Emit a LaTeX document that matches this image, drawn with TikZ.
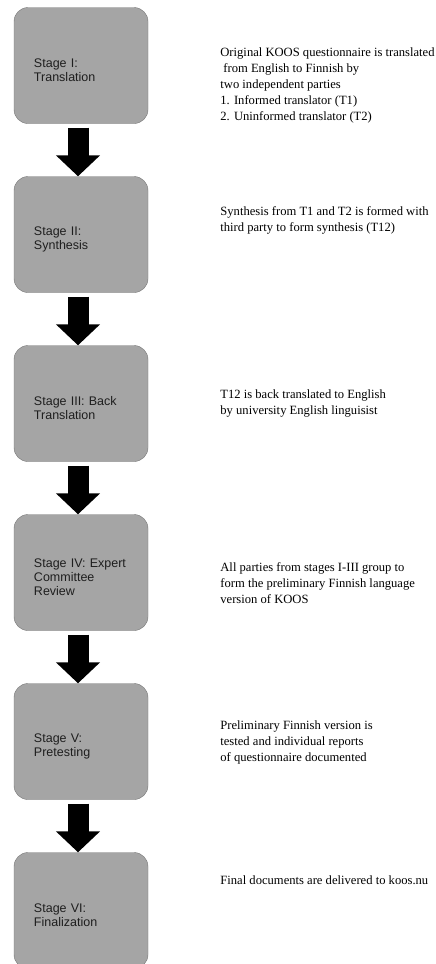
\documentclass[tikz,border=0pt]{standalone}
\usepackage{fontspec}
\setmainfont{Liberation Serif}
\setsansfont{Liberation Sans}
\usetikzlibrary{shapes, arrows.meta, positioning}
\definecolor{boxfill}{RGB}{165,165,165}
\definecolor{boxline}{RGB}{118,118,118}
\definecolor{boxtext}{RGB}{30,30,30}
\tikzstyle{stage} = [rectangle, rounded corners=14pt, minimum width=134pt, minimum height=116pt, text width=94pt, inner xsep=20pt, align=left, draw=boxline, fill=boxfill, text=boxtext, font=\sffamily\fontsize{12.5}{14}\selectfont, execute at begin node={\rule{0pt}{19pt}}]
\tikzstyle{note} = [align=left, inner sep=0pt, font=\fontsize{12.6}{16}\selectfont]
\tikzstyle{bigarrow} = [line width=21pt, -{Triangle[width=43pt,length=21pt]}]

\begin{document}
\begin{tikzpicture}[x=1pt, y=-1pt, node distance=169pt]
    \useasboundingbox (0,0) rectangle (436,964);

    \node (s1) [stage] at (81,65.5) {Stage I:\\Translation};
    \node (s2) [stage, below of=s1] {Stage II:\\Synthesis};
    \node (s3) [stage, below of=s2] {Stage III: Back\\Translation};
    \node (s4) [stage, below of=s3] {Stage IV: Expert\\Committee\\Review};
    \node (s5) [stage, below of=s4] {Stage V:\\Pretesting};
    \node (s6) [stage, below of=s5] {Stage VI:\\Finalization};

    \node (d1) [note, right=72pt of s1, yshift=-19.5pt] {Original KOOS questionnaire is translated\\\hspace*{3pt}from English to Finnish by\\two independent parties\\1. Informed translator (T1)\\2. Uninformed translator (T2)};
    \node (d2) [note, right=72pt of s2, yshift=14.5pt] {Synthesis from T1 and T2 is formed with\\third party to form synthesis (T12)};
    \node (d3) [note, right=72pt of s3, yshift=0.5pt] {T12 is back translated to English\\by university English linguisist};
    \node (d4) [note, right=72pt of s4, yshift=-10.5pt] {All parties from stages I-III group to\\form the preliminary Finnish language\\version of KOOS};
    \node (d5) [note, right=72pt of s5, yshift=-0.5pt] {Preliminary Finnish version is\\tested and individual reports\\of questionnaire documented};
    \node (d6) [note, right=72pt of s6, yshift=30.5pt] {Final documents are delivered to koos.nu};

    \draw [bigarrow] ([shift={(-3pt,-4pt)}]s1.south) -- ([xshift=-3pt]s2.north);
    \draw [bigarrow] ([shift={(-3pt,-4pt)}]s2.south) -- ([xshift=-3pt]s3.north);
    \draw [bigarrow] ([shift={(-3pt,-4pt)}]s3.south) -- ([xshift=-3pt]s4.north);
    \draw [bigarrow] ([shift={(-3pt,-4pt)}]s4.south) -- ([xshift=-3pt]s5.north);
    \draw [bigarrow] ([shift={(-3pt,-4pt)}]s5.south) -- ([xshift=-3pt]s6.north);

\end{tikzpicture}
\end{document}
